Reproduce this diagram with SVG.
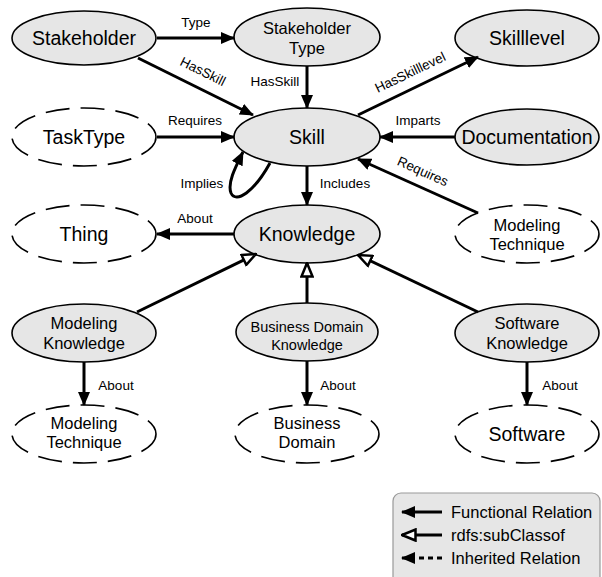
<svg xmlns="http://www.w3.org/2000/svg" width="602" height="577" viewBox="0 0 602 577">
<style>
.n{fill:#e6e6e6;stroke:#000;stroke-width:1.6}
.d{fill:#fff;stroke:#000;stroke-width:1.6;stroke-dasharray:24 11}
.t{font-family:"Liberation Sans",Arial,sans-serif;fill:#000;text-anchor:middle}
.big{font-size:19.5px}
.mid{font-size:16.5px}
.sm{font-size:14.5px}
.lb{font-family:"Liberation Sans",Arial,sans-serif;font-size:13.5px;fill:#000}
.e{fill:none;stroke:#000;stroke-width:3}
.lg{font-family:"Liberation Sans",Arial,sans-serif;font-size:16.5px;fill:#000}
</style>
<defs>
<marker id="f" viewBox="0 0 14 12" refX="13" refY="6" markerWidth="14" markerHeight="12" markerUnits="userSpaceOnUse" orient="auto"><path d="M0,0 L14,6 L0,12 z" fill="#000"/></marker>
<marker id="h" viewBox="0 0 16 14" refX="15" refY="7" markerWidth="16" markerHeight="14" markerUnits="userSpaceOnUse" orient="auto"><path d="M1.5,1.5 L15,7 L1.5,12.5 z" fill="#fff" stroke="#000" stroke-width="2.5"/></marker>
</defs>
<rect width="602" height="577" fill="#fff"/>
<g id="stakeholder"><ellipse class="n" cx="84" cy="38" rx="72" ry="27"/><text class="t big" x="84" y="45">Stakeholder</text></g>
<g id="stakeholdertype"><ellipse class="n" cx="307" cy="37" rx="73" ry="29"/><text class="t mid" x="307" y="34">Stakeholder</text><text class="t mid" x="307" y="54">Type</text></g>
<g id="skilllevel"><ellipse class="n" cx="527" cy="38" rx="72" ry="28"/><text class="t big" x="527" y="45">Skilllevel</text></g>
<g id="tasktype"><ellipse class="d" cx="84" cy="137" rx="72" ry="29"/><text class="t big" x="84" y="144">TaskType</text></g>
<g id="skill"><ellipse class="n" cx="307" cy="137" rx="73" ry="29"/><text class="t big" x="307" y="144">Skill</text></g>
<g id="documentation"><ellipse class="n" cx="527" cy="137" rx="72" ry="28"/><text class="t big" x="527" y="144">Documentation</text></g>
<g id="thing"><ellipse class="d" cx="84" cy="234" rx="72" ry="29"/><text class="t big" x="84" y="241">Thing</text></g>
<g id="knowledge"><ellipse class="n" cx="307" cy="234" rx="73" ry="29"/><text class="t big" x="307" y="241">Knowledge</text></g>
<g id="modelingtechnique1"><ellipse class="d" cx="527" cy="234" rx="72" ry="29"/><text class="t mid" x="527" y="231">Modeling</text><text class="t mid" x="527" y="250">Technique</text></g>
<g id="modelingknowledge"><ellipse class="n" cx="84" cy="333" rx="72" ry="29"/><text class="t mid" x="84" y="329">Modeling</text><text class="t mid" x="84" y="349">Knowledge</text></g>
<g id="businessdomainknowledge"><ellipse class="n" cx="307" cy="332" rx="71" ry="29"/><text class="t sm" x="307" y="332">Business Domain</text><text class="t sm" x="307" y="350">Knowledge</text></g>
<g id="softwareknowledge"><ellipse class="n" cx="527" cy="333" rx="72" ry="29"/><text class="t mid" x="527" y="329">Software</text><text class="t mid" x="527" y="349">Knowledge</text></g>
<g id="modelingtechnique2"><ellipse class="d" cx="84" cy="434" rx="72" ry="29"/><text class="t mid" x="84" y="429">Modeling</text><text class="t mid" x="84" y="448">Technique</text></g>
<g id="businessdomain"><ellipse class="d" cx="307" cy="434" rx="72" ry="29"/><text class="t mid" x="307" y="429">Business</text><text class="t mid" x="307" y="448">Domain</text></g>
<g id="software"><ellipse class="d" cx="527" cy="434" rx="72" ry="29"/><text class="t big" x="527" y="441">Software</text></g>
<g id="edges">
<path class="e" d="M157,38 L234,38" marker-end="url(#f)"/>
<text class="lb" x="196" y="27" text-anchor="middle">Type</text>
<path class="e" d="M138,58 L253,115" marker-end="url(#f)"/>
<text class="lb" x="203" y="76" text-anchor="middle" transform="rotate(26.4 203 71)">HasSkill</text>
<path class="e" d="M307,66 L307,108" marker-end="url(#f)"/>
<text class="lb" x="275" y="86" text-anchor="middle">HasSkill</text>
<path class="e" d="M157,137 L234,137" marker-end="url(#f)"/>
<text class="lb" x="195" y="125" text-anchor="middle">Requires</text>
<path class="e" d="M270,163 C254,192 236,204 231,193 C227,183 236,166 243,152" marker-end="url(#f)"/>
<text class="lb" x="202" y="188" text-anchor="middle">Implies</text>
<path class="e" d="M358,115 L478,57" marker-end="url(#f)"/>
<text class="lb" x="410" y="77" text-anchor="middle" transform="rotate(-25.6 410 72)">HasSkilllevel</text>
<path class="e" d="M455,137 L380,137" marker-end="url(#f)"/>
<text class="lb" x="418" y="125" text-anchor="middle">Imparts</text>
<path class="e" d="M478,213 L358,159" marker-end="url(#f)"/>
<text class="lb" x="423" y="176" text-anchor="middle" transform="rotate(24 423 171)">Requires</text>
<path class="e" d="M307,166 L307,205" marker-end="url(#f)"/>
<text class="lb" x="345" y="188" text-anchor="middle">Includes</text>
<path class="e" d="M234,234 L157,234" marker-end="url(#f)"/>
<text class="lb" x="195" y="223" text-anchor="middle">About</text>
<path class="e" d="M137,312 L256,254" marker-end="url(#h)"/>
<path class="e" d="M307,303 L307,263" marker-end="url(#h)"/>
<path class="e" d="M478,312 L358,255" marker-end="url(#h)"/>
<path class="e" d="M84,362 L84,405" marker-end="url(#f)"/>
<text class="lb" x="116" y="390" text-anchor="middle">About</text>
<path class="e" d="M307,361 L307,405" marker-end="url(#f)"/>
<text class="lb" x="338" y="390" text-anchor="middle">About</text>
<path class="e" d="M527,362 L527,405" marker-end="url(#f)"/>
<text class="lb" x="560" y="390" text-anchor="middle">About</text>
</g>
<g id="legend">
<rect x="393" y="493" width="207" height="95" rx="8" fill="#e6e6e6" stroke="#999" stroke-width="1.2"/>
<path class="e" d="M442,512 L402,512" marker-end="url(#f)"/>
<path class="e" d="M442,535 L402,535" marker-end="url(#h)"/>
<path class="e" d="M442,558 L402,558" stroke-dasharray="5 4" marker-end="url(#f)"/>
<text class="lg" x="451" y="518">Functional Relation</text>
<text class="lg" x="451" y="541">rdfs:subClassof</text>
<text class="lg" x="451" y="564">Inherited Relation</text>
</g>
</svg>
